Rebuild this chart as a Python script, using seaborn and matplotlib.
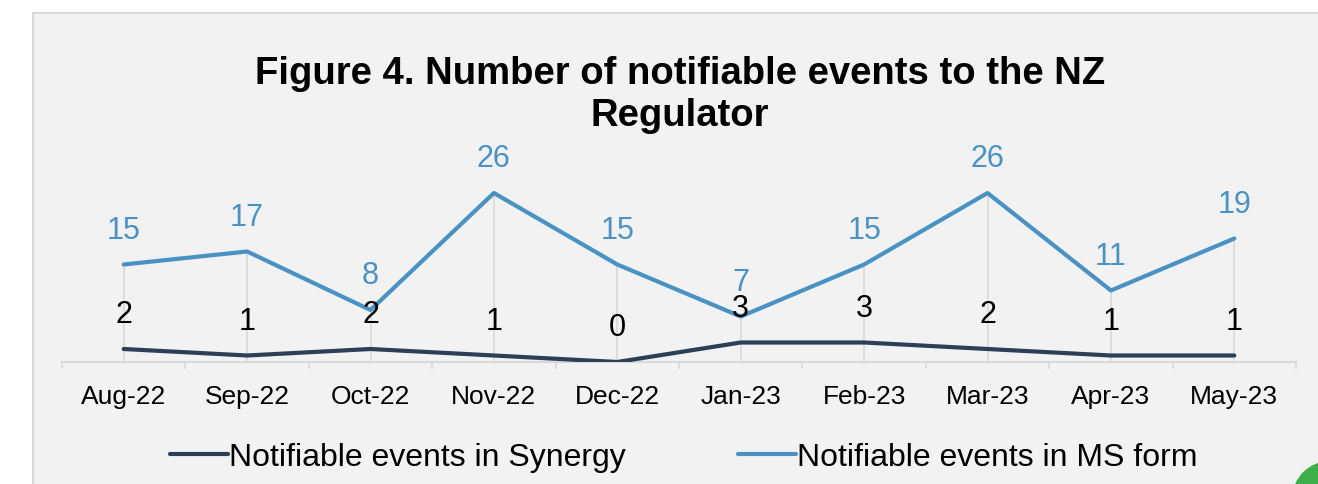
import numpy as np
import pandas as pd
import matplotlib
matplotlib.use("Agg")
import matplotlib.pyplot as plt
from matplotlib.patches import Rectangle, Ellipse
import seaborn as sns

months = ['Aug-22', 'Sep-22', 'Oct-22', 'Nov-22', 'Dec-22',
          'Jan-23', 'Feb-23', 'Mar-23', 'Apr-23', 'May-23']
synergy = [2, 1, 2, 1, 0, 3, 3, 2, 1, 1]
ms_form = [15, 17, 8, 26, 15, 7, 15, 26, 11, 19]

navy = '#2b3f55'
blue = '#4a92c4'
grey = '#d9d9d9'

sns.set_theme(style='white')
plt.rcParams['font.family'] = ['Liberation Sans', 'DejaVu Sans']
plt.rcParams['text.color'] = 'black'
plt.rcParams['xtick.color'] = 'black'

df = pd.DataFrame({'pos': np.arange(len(months)), 'month': months,
                   'synergy': synergy, 'ms': ms_form})

W, H = 1318, 485
fig = plt.figure(figsize=(W / 100, H / 100), dpi=100)
fig.patch.set_facecolor('white')
# grey chart panel, runs off the right and bottom edges
fig.patches.append(Rectangle((33 / W, -0.2), 1.2, 1.2 - 14 / H,
                             transform=fig.transFigure, facecolor='#f2f2f2',
                             edgecolor=grey, linewidth=1.5, zorder=-10))
# green blob in the corner
fig.patches.append(Ellipse((1330 / W, 1 - 500 / H), 76 / W, 76 / H,
                           transform=fig.transFigure, facecolor='#3dae49',
                           edgecolor='none', zorder=-5))

ax = fig.add_axes([62 / W, 122 / H, 1234 / W, 195 / H])
ax.set_facecolor('none')

# drop lines
ax.vlines(df['pos'], 0, df['ms'], color=grey, linewidth=1.2, zorder=1)

sns.lineplot(data=df, x='pos', y='synergy', color=navy, linewidth=3,
             label='Notifiable events in Synergy', ax=ax, zorder=3)
sns.lineplot(data=df, x='pos', y='ms', color=blue, linewidth=3,
             label='Notifiable events in MS form', ax=ax, zorder=3)

for x, v in zip(df['pos'], df['ms']):
    ax.annotate(str(v), (x, v), xytext=(0, 25), textcoords='offset points',
                ha='center', va='center', fontsize=22, color=blue)
for x, v in zip(df['pos'], df['synergy']):
    ax.annotate(str(v), (x, v), xytext=(0, 25), textcoords='offset points',
                ha='center', va='center', fontsize=22, color='black', zorder=5)

ax.set_xlim(-0.5, len(months) - 0.5)
ax.set_ylim(0, 30)
ax.set_xticks(df['pos'])
ax.set_xticklabels(months, fontsize=19, color='black')
ax.set_xticks(np.arange(-0.5, len(months)), minor=True)
ax.tick_params(axis='x', which='major', length=0, pad=16)
ax.tick_params(axis='x', which='minor', length=5, width=1.2, color=grey, bottom=True)
ax.set_yticks([])
ax.set_xlabel('')
ax.set_ylabel('')
for s in ['top', 'right', 'left']:
    ax.spines[s].set_visible(False)
ax.spines['bottom'].set_color(grey)
ax.spines['bottom'].set_linewidth(1.5)

ax.get_legend().remove()
handles, labels = ax.get_legend_handles_labels()
leg = fig.legend(handles, labels, loc='center', bbox_to_anchor=(684 / W, 1 - 458 / H),
                 ncol=2, frameon=False, fontsize=23, handlelength=1.8,
                 handletextpad=0.05, columnspacing=3.5, borderaxespad=0)
for t in leg.get_texts():
    t.set_color('black')

fig.text(680 / W, 1 - 95 / H,
         'Figure 4. Number of notifiable events to the NZ\nRegulator',
         ha='center', va='center', fontsize=27.5, fontweight='bold',
         color='black', linespacing=1.2)

fig.savefig('out.png', dpi=100)
